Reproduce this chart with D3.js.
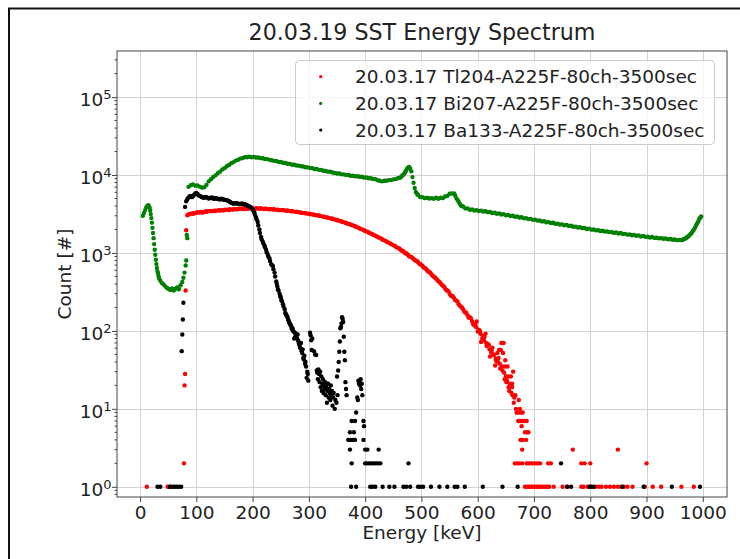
<!DOCTYPE html>
<html><head><meta charset="utf-8">
<script src="https://cdn.jsdelivr.net/npm/d3@7"></script>
<style>body{margin:0;background:#fff;} svg{display:block;font-family:"DejaVu Sans",sans-serif;}</style>
</head><body><svg id="c" width="740" height="559"></svg>
<script>
const titleText = "20.03.19 SST Energy Spectrum";
const xLabelText = "Energy [keV]";
const yLabelText = "Count [#]";
const seriesNames = ["20.03.17 Tl204-A225F-80ch-3500sec","20.03.17 Bi207-A225F-80ch-3500sec","20.03.17 Ba133-A225F-80ch-3500sec"];
const seriesColors = ["#ff0000","#008000","#000000"];
const xTicks = [0,100,200,300,400,500,600,700,800,900,1000];
const yTicks = [1,10,100,1000,10000,100000];
const yTickExp = ["0","1","2","3","4","5"];

// [energy keV, count]
const tl204 = [[12,1],[49,1],[53,1],[78,2],[79,20],[80,28],[81,330],[82,1960],
[84,3050],[88,3150],[92,3220],[96,3230],[100,3290],[104,3300],[108,3360],[112,3320],[116,3400],[120,3430],[124,3440],[128,3440],[132,3490],[136,3490],[140,3530],[144,3540],[148,3510],[152,3590],[156,3590],[160,3630],[164,3600],[168,3650],[172,3640],[176,3690],[180,3700],[184,3660],[188,3730],[192,3700],[196,3740],[200,3710],[204,3700],[208,3750],[212,3690],[216,3710],[220,3670],[224,3700],[228,3650],[232,3660],[236,3610],[240,3600],[244,3590],[248,3550],[252,3540],[256,3520],[260,3480],[264,3470],[268,3420],[272,3420],[276,3370],[280,3350],[284,3320],[288,3270],[292,3250],[296,3200],[300,3180],[304,3130],[308,3110],[312,3060],[316,3030],[320,2980],[324,2950],[328,2890],[332,2860],[336,2800],[340,2770],[344,2710],[348,2670],[352,2610],[356,2570],[360,2500],[364,2460],[368,2390],[372,2350],[376,2280],[380,2230],[384,2160],[388,2110],[392,2040],[396,1990],[400,1910],[404,1870],[408,1800],[412,1750],[416,1690],[420,1640],[424,1580],[428,1540],[432,1470],[436,1430],[440,1370],[444,1330],[448,1280],[452,1240],[456,1180],[460,1150],[464,1080],[468,1050],[472,990],[476,950],[480,890],[484,870],[488,810],[492,790],[496,730],[500,700],[504,650],[508,630],[512,580],[516,555],[520,510],[524,485],[528,450],[532,425],[536,390],[540,372],[544,335],[548,322],[552,285],[556,278],[560,248],[564,238],[568,212],[572,200],[576,178],[580,170],[584,148],[588,146],[592,122],[596,120],[600,98],[604,100],[608,80],[612,84],[616,64],[620,66],[624,53],[628,50],[632,44],[636,40],[640,33],[644,31],[648,24],[652,23],[656,17],[660,16],[664,12],[668,10],[672,7],
[86,3120],[94,3180],[102,3330],[110,3300],[118,3380],[126,3470],[134,3450],[142,3500],[150,3570],[158,3560],[166,3630],[174,3660],[182,3720],[190,3680],[198,3700],[206,3730],[214,3740],[222,3690],[230,3630],[238,3640],[246,3560],[254,3560],[262,3500],[270,3440],[278,3380],[286,3280],[294,3240],[302,3160],[310,3080],[318,3020],[326,2920],[334,2830],[342,2750],[350,2630],[358,2540],[366,2420],[374,2310],[382,2200],[390,2070],[398,1950],[406,1830],[414,1720],[422,1610],[430,1500],[438,1400],[446,1300],[454,1210],
[462,1120],[466,1070],[470,1010],[474,975],[478,910],[482,885],[486,840],[490,795],[494,760],[498,715],[502,680],[506,640],[510,600],[514,570],[518,530],[522,495],[526,470],[530,435],[534,410],[538,380],[542,350],[546,330],[550,300],[554,280],[558,262],[562,245],[566,220],[570,205],[574,190],[578,172],[582,158],[586,150],[590,133],[594,118],[597,112],[602,104],[605,92],[609,86],[611,76],[615,70],[618,68],[621,58],[625,56],[629,49],[633,41],[637,45],[639,38],[643,35],[647,29],[651,22],[655,19],
[598,132],[606,72],[614,92],[622,47],[626,61],[631,36],[635,52],[638,57],[641,57],[642,70],[645,52],[646,70],[648,35],[649,42],[650,26],[653,35],[654,26],[657,21],[659,26],[661,19],[661,21],[662,15],[663,30],[665,14],[667,15],[669,9],[670,9],[673,13],[674,9],[675,10],[676,7],[677,9],[678,6],[680,9],[680,7],[683,7],[687,7],[684,5],[688,5],[690,5],[676,4],[680,4],[686,4],[679,3],[769,3],[849,3],
[666,2],[670,2],[674,2],[679,2],[687,2],[690,2],[694,2],[698,2],[703,2],[707,2],[711,2],[725,2],[730,2],[784,2],[790,2],[800,2],[900,2],
[684,1],[688,1],[691,1],[694,1],[697,1],[700,1],[703,1],[706,1],[709,1],[712,1],[716,1],[720,1],[724,1],[727,1],[735,1],[751,1],[759,1],[784,1],[788,1],[795,1],[800,1],[809,1],[815,1],[820,1],[828,1],[835,1],[842,1],[849,1],[855,1],[860,1],[866,1],[875,1],[897,1],[911,1],[926,1],[962,1],[984,1]];

const bi207 = [[5,3000],[7,3250],[9,3550],[11,3850],[13,4050],[15,4100],[17,3800],[18,3500],[19,3150],[20,2800],[21,2450],[22,2100],[23,1800],[24,1550],[25,1300],[26,1100],[27,950],[28,820],[29,720],[30,640],[31,580],[32,540],[33,500],[34,470],[36,440],[39,410],[42,395],[45,370],[48,355],[51,345],[54,335],[57,350],[60,330],[63,348],[66,362],[69,342],[72,385],[75,425],[77,480],[79,560],[81,690],[82,800],[83,1700],[84,1550],
[86,7050],[90,7400],[94,7550],[98,7300],[102,7350],[106,7100],[110,6900],[114,6980],[118,7450],[122,8300],[126,8850],[130,9450],[134,9900],[138,10550],[142,11000],[146,11750],[150,12250],[154,12950],[158,13450],[162,14150],[166,14650],[170,15300],[174,15650],[178,16250],[182,16450],[186,16950],[190,16900],[194,17150],[198,16900],[202,17050],[206,16750],[210,16750],[214,16450],[218,16400],[222,16050],[226,16000],[230,15650],[234,15500],[238,15200],[242,15100],[246,14750],[250,14700],[254,14350],[258,14300],[262,13950],[266,13900],[270,13550],[274,13550],[278,13250],[282,13200],[286,12950],[290,12850],[294,12600],[298,12550],[302,12300],[306,12250],[310,11950],[314,11950],[318,11650],[322,11600],[326,11350],[330,11250],[334,11050],[338,11000],[342,10750],[346,10650],[350,10450],[354,10450],[358,10200],[362,10200],[366,10000],[370,10000],[374,9800],[378,9800],[382,9650],[386,9650],[390,9500],[394,9500],[398,9300],[402,9300],[406,9100],[410,9100],[414,8900],[418,8850],[422,8550],[426,8450],[430,8300],[434,8450],[438,8450],[442,8600],[446,8600],[450,8800],[454,8850],[458,9100],[462,9200],[464,9500],[466,9850],[468,10100],[470,10550],[472,11200],[474,11850],[476,12400],[478,12650],[480,12100],[482,11150],[484,9400],[486,7950],[488,6800],[490,6050],[492,5750],[494,5550],[498,5200],[502,5200],[506,5050],[510,5100],[514,5000],[518,5050],[522,4950],[526,5100],[530,4950],[534,5100],[538,5050],[542,5300],[546,5400],[550,5750],[554,5800],[558,5800],[560,5450],[562,5050],[564,4800],[566,4550],[568,4300],[570,4050],[572,4000],[574,3950],[578,3730],[582,3730],[586,3580],[590,3610],[594,3500],[598,3550],[602,3450],[606,3490],[610,3400],[614,3430],[618,3340],[622,3360],[626,3260],[630,3290],[634,3190],[638,3220],[642,3120],[646,3150],[650,3050],[654,3080],[658,2980],[662,3000],[666,2920],[670,2940],[674,2850],[678,2870],[682,2780],[686,2800],[690,2720],[694,2740],[698,2660],[702,2680],[706,2600],[710,2610],[714,2540],[718,2550],[722,2480],[726,2490],[730,2420],[734,2440],[738,2370],[742,2380],[746,2320],[750,2330],[754,2270],[758,2280],[762,2220],[766,2230],[770,2170],[774,2180],[778,2120],[782,2140],[786,2080],[790,2090],[794,2030],[798,2050],[802,1990],[806,2000],[810,1950],[814,1960],[818,1910],[822,1930],[826,1880],[830,1890],[834,1850],[838,1860],[842,1810],[846,1830],[850,1780],[854,1800],[858,1750],[862,1760],[866,1720],[870,1730],[874,1690],[878,1700],[882,1660],[886,1680],[890,1630],[894,1650],[898,1610],[902,1620],[906,1580],[910,1600],[914,1560],[918,1570],[922,1540],[926,1550],[930,1520],[934,1530],[938,1500],[942,1510],[946,1480],[950,1490],[954,1460],[958,1470],[962,1460],[964,1480],[966,1500],[968,1520],[970,1550],[972,1590],[974,1630],[976,1680],[978,1740],[980,1810],[982,1900],[984,1990],[986,2100],[988,2250],[990,2400],[992,2550],[994,2750],[996,2850],[997,2950]];

const ba133 = [[31,1],[36,1],[53,1],[57,1],[61,1],[65,1],[69,1],[73,1],
[74,55],[75,90],[76,140],[77,230],[80,3900],[82,4600],
[84,4900],[86,5150],[88,5300],[92,5200],[96,5600],[100,5900],[104,5500],[108,5300],[112,5150],[116,5250],[120,5100],[124,5050],[128,5150],[132,4950],[136,5000],[140,4900],[144,4950],[148,4850],[152,4800],[156,4700],[160,4500],[164,4350],[168,4300],[172,4350],[176,4250],[180,4300],[184,4250],[188,4150],[192,4000],[196,3900],[200,3650],[203,3300],[206,2900],[209,2500],[212,2000],[215,1600],[218,1400],[221,1250],[224,1100],[227,950],[230,850],[233,720],[236,680],[239,560],[242,430],[244,370],[245,340],[248,300],[250,270],[251,250],[254,220],[257,190],[258,170],[260,160],[262,150],[263,140],[266,125],[268,118],[269,110],[272,100],[274,80],[275,95],[278,88],[280,90],[281,75],[284,62],[286,70],[287,55],[289,58],[290,45],[292,48],[293,38],[294,40],[296,25],[297,30],[299,23],
[90,5400],[94,5350],[98,5800],[102,5700],[106,5400],[110,5200],[114,5100],[118,5200],[122,5000],[126,5100],[130,5000],[134,5050],[138,4950],[142,4850],[146,4900],[150,4800],[154,4750],[158,4600],[162,4400],[166,4300],[170,4350],[174,4300],[178,4250],[182,4280],[186,4200],[190,4100],[194,3950],[198,3800],
[201,3500],[204,3100],[207,2700],[210,2250],[213,1800],[216,1500],[219,1330],[222,1180],[225,1020],[228,900],[231,790],[234,700],[237,620],[240,500],[243,400],[246,330],[249,280],[252,240],[255,205],[259,165],[261,155],[264,135],[265,128],[267,120],[270,105],[271,108],[273,98],[276,85],[277,92],[279,80],[282,70],[283,66],[285,60],[288,52],[291,43],[295,35],[298,28],
[302,95],[303,88],[304,76],[305,57],[306,80],[309,55],[311,50],[313,49],
[314,31],[315,29],[316,24],[317,32],[318,28],[319,22],[320,30],[321,19],[322,26],[323,17],[324,21],[325,24],[326,16],[327,20],[328,18],[329,22],[330,15],[331,19],[332,12],[333,17],[334,21],[335,14],[336,18],[337,16],[338,13],[339,20],[340,15],[341,17],[342,11],[343,14],[344,16],[346,10],[347,13],[349,12],[351,15],
[350,26],[352,31],[353,40],[354,54],[355,73],[356,108],[357,113],[358,125],[359,150],[360,142],[361,130],[362,84],[363,54],[364,42],[365,22],[366,18],[367,15],
[373,5],[376,7],[378,4],[380,5],[382,7],[384,9],[386,14],[387,13],[388,23],[389,21],[390,22],[391,20],[392,24],[393,18],[394,21],[395,15],[397,7],[398,6],
[370,4],[374,4],[382,4],[397,4],
[373,3],[400,3],[404,3],[424,3],
[376,2],[400,2],[403,2],[407,2],[411,2],[415,2],[419,2],[423,2],[427,2],[477,2],[748,2],
[375,1],[384,1],[409,1],[413,1],[418,1],[431,1],[443,1],[452,1],[468,1],[473,1],[480,1],[494,1],[498,1],[503,1],[517,1],[532,1],[546,1],[559,1],[564,1],[577,1],[609,1],[644,1],[671,1],[759,1],[766,1],[799,1],[802,1],[806,1],[857,1],[895,1],[945,1],[995,1]];

const seriesData = [tl204, bi207, ba133];

const svg = d3.select("#c");
svg.append("rect").attr("width",740).attr("height",559).attr("fill","#fff");
svg.append("path").attr("d","M9,559V8.5H740").attr("fill","none").attr("stroke","#111").attr("stroke-width",2);

const L=117,R=727,T=51,B=497;
const x = d3.scaleLinear().domain([-41,1043]).range([L,R]);
const y = d3.scaleLog().domain([0.74,3.9e5]).range([B,T]);

// grid
const grid = svg.append("g").attr("stroke","#d3d3d3").attr("stroke-width",1);
grid.selectAll("line.v").data(xTicks).join("line").attr("class","v")
  .attr("x1",d=>Math.round(x(d))+0.5).attr("x2",d=>Math.round(x(d))+0.5).attr("y1",T).attr("y2",B);
grid.selectAll("line.h").data(yTicks).join("line").attr("class","h")
  .attr("y1",d=>Math.round(y(d))+0.5).attr("y2",d=>Math.round(y(d))+0.5).attr("x1",L).attr("x2",R);

// data
seriesData.forEach((data,i)=>{
  svg.append("g").attr("fill",seriesColors[i])
    .selectAll("circle").data(data.filter(d=>d[1]>0)).join("circle")
    .attr("cx",d=>x(d[0])).attr("cy",d=>y(d[1])).attr("r",2.2);
});

// spines
svg.append("rect").attr("x",L).attr("y",T).attr("width",R-L).attr("height",B-T)
  .attr("fill","none").attr("stroke","#444").attr("stroke-width",1);

// x axis
const xa = svg.append("g").attr("transform",`translate(0,${B})`)
  .call(d3.axisBottom(x).tickValues(xTicks).tickSize(5).tickPadding(3.5).tickFormat(d3.format("d")));
xa.select(".domain").remove();
xa.selectAll("line").attr("stroke","#444");
xa.selectAll("text").attr("font-size","18.5px").attr("fill","#222").attr("font-family","DejaVu Sans");

// y axis ticks
const ya = svg.append("g").attr("transform",`translate(${L},0)`)
  .call(d3.axisLeft(y).tickValues(yTicks).tickSize(5).tickFormat(""));
ya.select(".domain").remove();
ya.selectAll("line").attr("stroke","#444");
const minor = y.ticks().filter(v=>!yTicks.includes(v));
svg.append("g").attr("stroke","#444").selectAll("line").data(minor).join("line")
  .attr("x1",L-2.5).attr("x2",L).attr("y1",d=>y(d)).attr("y2",d=>y(d));
const ylab = svg.append("g").attr("font-size","18.5px").attr("fill","#222").attr("text-anchor","end");
yTicks.forEach((v,i)=>{
  const t = ylab.append("text").attr("x",111.5).attr("y",y(v)+9.2).text("10");
  t.append("tspan").attr("dy",-7.2).attr("font-size","13px").text(yTickExp[i]);
});

// labels
svg.append("text").attr("x",(L+R)/2).attr("y",538.5).attr("text-anchor","middle")
  .attr("font-size","18.5px").attr("fill","#222").text(xLabelText);
svg.append("text").attr("transform",`translate(70.5,${(T+B)/2}) rotate(-90)`).attr("text-anchor","middle")
  .attr("font-size","18.5px").attr("fill","#222").text(yLabelText);
svg.append("text").attr("x",(L+R)/2).attr("y",40).attr("text-anchor","middle")
  .attr("font-size","22.2px").attr("fill","#222").text(titleText);

// legend
const lg = svg.append("g");
lg.append("rect").attr("x",295.5).attr("y",60.5).attr("width",419).attr("height",84).attr("rx",4)
  .attr("fill","#fff").attr("fill-opacity",0.8).attr("stroke","#cccccc");
seriesNames.forEach((n,i)=>{
  const cy = 76.7 + i*26.7;
  lg.append("circle").attr("cx",320.7).attr("cy",cy).attr("r",1.6).attr("fill",seriesColors[i]);
  lg.append("text").attr("x",355).attr("y",cy+6.6).attr("font-size","18.5px").attr("fill","#222").text(n);
});
</script></body></html>
